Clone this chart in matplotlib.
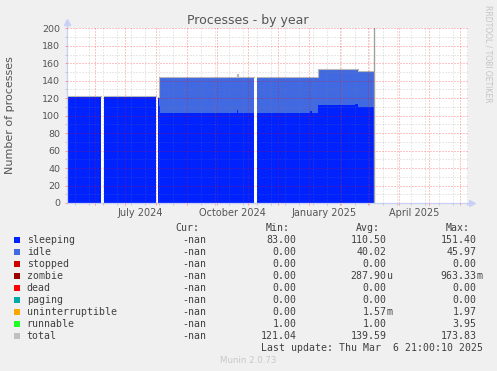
import matplotlib
matplotlib.use('Agg')
import matplotlib.pyplot as plt
import matplotlib.dates as mdates
import matplotlib.transforms as mtransforms
from matplotlib.patches import Rectangle
import numpy as np
from datetime import datetime

# ---------------- data ----------------
dates = ["2024-05-01", "2024-06-07", "2024-06-07", "2024-06-10", "2024-08-01",
         "2024-08-01", "2024-08-03", "2024-08-04", "2024-08-05", "2024-10-21",
         "2024-10-22", "2024-11-07", "2024-11-07", "2024-11-10", "2025-01-02",
         "2025-01-04", "2025-01-10", "2025-02-16", "2025-02-19", "2025-03-06 21:00"]
nan = float('nan')
sleeping = [121.4, 121.4, nan, 121.4, 121.4, nan, 120.0, 111.0, 103.4, 106.0,
            103.4, 103.4, nan, 103.4, 105.5, 103.4, 112.4, 113.9, 110.3, 110.3]
idle = [0.0, 0.0, nan, 0.0, 0.0, nan, 0.0, 32.0, 39.5, 41.0,
        39.5, 39.5, nan, 39.5, 37.4, 39.5, 39.6, 38.1, 40.2, 40.2]
runnable = [1.1, 1.1, nan, 1.1, 1.1, nan, 1.0, 1.0, 1.0, 1.0,
            1.0, 1.0, nan, 1.0, 1.0, 1.0, 1.0, 1.0, 1.0, 1.0]
last_update = "2025-03-06 21:00"

x_labels = ["July 2024", "October 2024", "January 2025", "April 2025"]
x_label_dates = ["2024-07-16", "2024-10-16", "2025-01-16", "2025-04-16"]

legend_names = ["sleeping", "idle", "stopped", "zombie", "dead", "paging",
                "uninterruptible", "runnable", "total"]
legend_colors = ["#0022ff", "#4169e1", "#cc0000", "#990000", "#ff0000",
                 "#00aaaa", "#ffa500", "#22ff22", "#c0c0c0"]
cur_vals = ["-nan"] * 9
min_vals = ["83.00", "0.00", "0.00", "0.00", "0.00", "0.00", "0.00", "1.00", "121.04"]
avg_vals = ["110.50", "40.02", "0.00", "287.90u", "0.00", "0.00", "1.57m", "1.00", "139.59"]
max_vals = ["151.40", "45.97", "0.00", "963.33m", "0.00", "0.00", "1.97", "3.95", "173.83"]

# ---------------- figure ----------------
W, H = 497, 371
fig = plt.figure(figsize=(W / 100, H / 100), dpi=100, facecolor='#f0f0f0')


def fx(px):
    return px / W


def fy(py):
    return 1 - py / H


ax = fig.add_axes([fx(67), fy(203), fx(468) - fx(67), fy(28.3) - fy(203)])
ax.set_facecolor('white')

t = mdates.date2num([datetime.fromisoformat(d) for d in dates])
s = np.array(sleeping)
i = s + np.array(idle)
r = i + np.array(runnable)

ax.fill_between(t, 0, s, step='post', color='#0022ff', lw=0, zorder=1)
ax.fill_between(t, s, i, step='post', color='#4169e1', lw=0, zorder=1)
ax.fill_between(t, i, r, step='post', color='#22ff22', lw=0, zorder=1)
ax.step(t, r, where='post', color='#b8b8b8', lw=0.8, zorder=2)

ax.axvline(mdates.date2num(datetime.fromisoformat(last_update)),
           color='#a0a0a0', lw=1.0, zorder=2)

ax.set_xlim(mdates.date2num(datetime(2024, 5, 4)), mdates.date2num(datetime(2025, 6, 9)))
ax.set_ylim(0, 200)

# grid / ticks
month_starts = mdates.date2num([datetime(2024 + (m - 1) // 12, (m - 1) % 12 + 1, 1)
                                for m in range(6, 19)])
biweekly = mdates.date2num(np.arange(np.datetime64('2024-05-12'),
                                     np.datetime64('2025-06-10'),
                                     np.timedelta64(14, 'D')).astype('datetime64[s]').astype(datetime))
ax.set_xticks(month_starts)
ax.set_xticks(biweekly, minor=True)
ax.set_yticks(range(0, 201, 20))
ax.set_yticks(range(10, 200, 20), minor=True)

dots = (0, (1, 2))
ax.set_axisbelow(False)
ax.grid(which='major', color='#ff0000', alpha=0.45, lw=0.72, linestyle=dots, snap=True,
        antialiased=True)
ax.grid(which='minor', color='#808080', alpha=0.35, lw=0.72, linestyle=dots, snap=True,
        antialiased=True)
ax.tick_params(axis='x', which='major', length=1.6, width=0.72, color='#f4a0a0',
               labelbottom=False)
ax.tick_params(axis='x', which='minor', length=1.6, width=0.72, color='#c8c8c8')
ax.tick_params(axis='y', which='major', length=1.6, width=0.72, color='#f4a0a0',
               labelsize=6.8, labelcolor='#555555', pad=3.2)
ax.tick_params(axis='y', which='minor', length=1.6, width=0.72, color='#c8c8c8')

axis_col = '#c8d0f8'
for sp in ['top', 'right']:
    ax.spines[sp].set_visible(False)
for sp in ['left', 'bottom']:
    ax.spines[sp].set_color(axis_col)
    ax.spines[sp].set_linewidth(0.9)
ax.plot([0, 0], [1, 1 + 6 / 175], transform=ax.transAxes, color=axis_col, lw=0.9,
        clip_on=False)
ax.plot([0], [1 + 6 / 175], marker='^', ms=4.5, color=axis_col, transform=ax.transAxes,
        clip_on=False)
ax.plot([1, 1 + 4 / 401], [0, 0], transform=ax.transAxes, color=axis_col, lw=0.9,
        clip_on=False)
ax.plot([1 + 4 / 401], [0], marker='>', ms=4.5, color=axis_col, transform=ax.transAxes,
        clip_on=False)

# x labels at mid-month
trans = mtransforms.blended_transform_factory(ax.transData, fig.transFigure)
for lab, d in zip(x_labels, x_label_dates):
    ax.text(mdates.date2num(datetime.fromisoformat(d)), fy(216.5), lab, transform=trans,
            ha='center', va='baseline', fontsize=7, color='#555555')

# title and labels
fig.text(fx(248), fy(24), "Processes - by year", ha='center', va='baseline',
         fontsize=9, color='#555555')
fig.text(fx(10.5), fy(115.5), "Number of processes", rotation=90, ha='center',
         va='center', fontsize=8, color='#555555')
fig.text(fx(488), fy(5), "RRDTOOL / TOBI OETIKER", rotation=270, ha='center', va='top',
         fontsize=5.5, color='#c4c4c4')

# legend
mono = dict(family='DejaVu Sans Mono', fontsize=7.1, color='#404040', va='baseline')
base0 = 230.7
step = 12.0
fig.text(fx(199), fy(base0), "Cur:", ha='right', **mono)
fig.text(fx(290), fy(base0), "Min:", ha='right', **mono)
fig.text(fx(380), fy(base0), "Avg:", ha='right', **mono)
fig.text(fx(470), fy(base0), "Max:", ha='right', **mono)


def put_val(xend, yb, v):
    suffix = ''
    if v[-1] in 'um':
        v, suffix = v[:-1], v[-1]
    fig.text(fx(xend), fy(yb), v, ha='right', **mono)
    if suffix:
        fig.text(fx(xend), fy(yb), suffix, ha='left', **mono)


for k, name in enumerate(legend_names):
    yb = base0 + step * (k + 1)
    fig.add_artist(Rectangle((fx(14), fy(yb)), 6 / W, 6 / H, transform=fig.transFigure,
                             facecolor=legend_colors[k], edgecolor='none'))
    fig.text(fx(26.7), fy(yb), name, ha='left', **mono)
    put_val(206, yb, cur_vals[k])
    put_val(296.7, yb, min_vals[k])
    put_val(386.7, yb, avg_vals[k])
    put_val(476.7, yb, max_vals[k])

fig.text(fx(482.7), fy(base0 + step * 10), "Last update: Thu Mar  6 21:00:10 2025",
         ha='right', **mono)
fig.text(fx(248), fy(363), "Munin 2.0.73", ha='center', va='baseline', fontsize=6.2,
         color='#c8c8c8')

fig.savefig('out.png', dpi=100, facecolor=fig.get_facecolor())
